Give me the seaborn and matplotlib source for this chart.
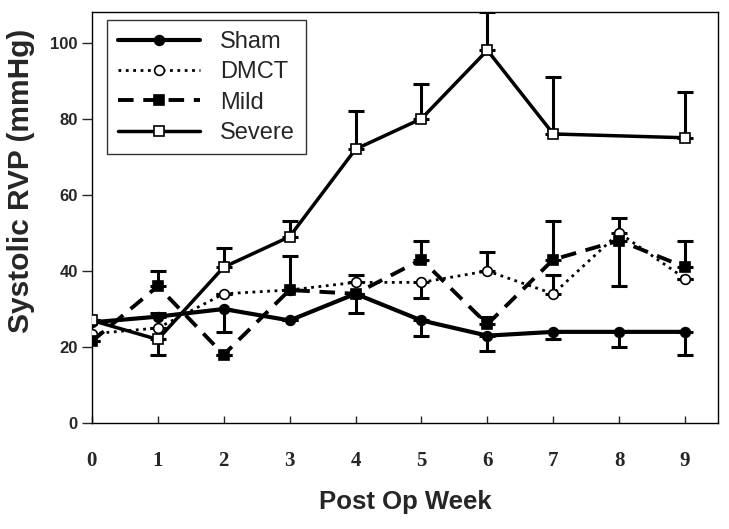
import numpy as np
import pandas as pd
import matplotlib
matplotlib.use("Agg")
import matplotlib.pyplot as plt
import seaborn as sns

weeks = [0, 1, 2, 3, 4, 5, 6, 7, 8, 9]
severe_weeks = [0, 1, 2, 3, 4, 5, 6, 7, 9]

sham = [26.5, 28, 30, 27, 34, 27, 23, 24, 24, 24]
sham_up = [0, 1, 0, 0, 0, 0, 0, 0, 0, 0]
sham_lo = [0, 0, 6, 0, 5, 4, 4, 2, 4, 6]

dmct = [23.5, 25, 34, 35, 37, 37, 40, 34, 50, 38]
dmct_up = [0, 0, 0, 0, 2, 0, 5, 5, 4, 0]
dmct_lo = [0, 0, 0, 0, 0, 4, 0, 0, 0, 0]

mild = [21.5, 36, 18, 35, 34, 43, 26, 43, 48, 41]
mild_up = [0, 4, 0, 9, 0, 5, 2, 10, 0, 7]
mild_lo = [0, 0, 0, 0, 0, 0, 0, 0, 12, 0]

severe = [27, 22, 41, 49, 72, 80, 98, 76, 75]
severe_up = [0, 0, 5, 4, 10, 9, 10, 15, 12]
severe_lo = [0, 4, 0, 0, 0, 0, 0, 0, 0]

sns.set_theme(style="ticks")
plt.rcParams["font.family"] = ["Liberation Sans", "DejaVu Sans"]

fig = plt.figure(figsize=(7.29, 5.29), dpi=100)
ax = fig.add_axes([0.126, 0.2, 0.859, 0.777])

series = [
    ("Sham", weeks, sham, sham_lo, sham_up, dict(linestyle="-", linewidth=3, marker="o", markerfacecolor="black")),
    ("DMCT", weeks, dmct, dmct_lo, dmct_up, dict(linestyle=":", linewidth=2, marker="o", markerfacecolor="white")),
    ("Mild", weeks, mild, mild_lo, mild_up, dict(linestyle=(0, (4, 2.5)), linewidth=2.8, marker="s", markerfacecolor="black")),
    ("Severe", severe_weeks, severe, severe_lo, severe_up, dict(linestyle="-", linewidth=2.5, marker="s", markerfacecolor="white")),
]

for name, xs, ys, lo, up, style in series:
    ax.errorbar(xs, ys, yerr=[lo, up], fmt="none", ecolor="black",
                elinewidth=2.2, capsize=6, capthick=2.2, zorder=2)
    sns.lineplot(x=xs, y=ys, ax=ax, color="black", label=name,
                 markersize=7, markeredgecolor="black", markeredgewidth=1.2,
                 zorder=3, **style)

ax.set_xlim(0, 9.5)
ax.set_ylim(0, 108)
ax.set_xticks(weeks)
ax.set_yticks([0, 20, 40, 60, 80, 100])
ax.tick_params(axis="x", direction="in", length=5, width=1, pad=20)
ax.tick_params(axis="y", direction="out", length=7, width=1, pad=3)
for lab in ax.get_xticklabels():
    lab.set_family(["Liberation Serif", "DejaVu Serif"])
    lab.set_fontweight("bold")
    lab.set_fontsize(15)
for lab in ax.get_yticklabels():
    lab.set_fontweight("bold")
    lab.set_fontsize(12)
for sp in ax.spines.values():
    sp.set_visible(True)
    sp.set_linewidth(1)
    sp.set_color("black")

ax.set_xlabel("Post Op Week", fontsize=18.5, fontweight="bold", labelpad=14)
ax.set_ylabel("Systolic RVP (mmHg)", fontsize=21.5, fontweight="bold")
ax.yaxis.set_label_coords(-0.09, 0.59)

leg = ax.legend(loc="upper left", bbox_to_anchor=(0.024, 0.98), borderaxespad=0,
                handlelength=3.5, fontsize=17, frameon=True, fancybox=False,
                edgecolor="black", borderpad=0.45, labelspacing=0.35,
                handletextpad=0.85)
leg.get_frame().set_linewidth(1)

fig.savefig("out.png", dpi=100)
